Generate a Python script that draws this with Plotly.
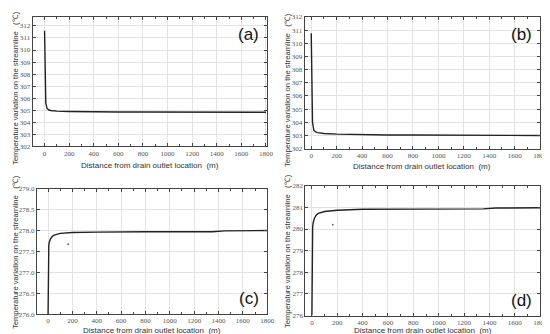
import plotly.graph_objects as go

# ---- data ----
dist_a = [0, 2, 5, 10, 20, 35, 50, 100, 200, 400, 600, 800, 1000, 1200, 1400, 1600, 1800]
temp_a = [311.6, 308.5, 306.6, 305.6, 305.15, 305.02, 304.98, 304.93, 304.9, 304.86, 304.86, 304.85, 304.84, 304.84, 304.83, 304.83, 304.83]

dist_b = [0, 2, 5, 10, 20, 35, 50, 100, 200, 400, 600, 800, 1000, 1200, 1400, 1600, 1800]
temp_b = [310.75, 307.5, 305.3, 304.0, 303.4, 303.27, 303.22, 303.15, 303.1, 303.05, 303.04, 303.03, 303.02, 303.02, 303.01, 303.0, 303.0]

dist_c = [0, 1, 3, 6, 10, 20, 35, 50, 100, 200, 400, 600, 800, 1000, 1200, 1350, 1450, 1600, 1800]
temp_c = [276.0, 277.3, 277.55, 277.65, 277.72, 277.8, 277.86, 277.89, 277.93, 277.95, 277.96, 277.97, 277.97, 277.97, 277.97, 277.97, 277.99, 278.0, 278.0]

dist_d = [0, 1, 3, 6, 10, 20, 35, 50, 100, 200, 400, 600, 800, 1000, 1200, 1350, 1450, 1600, 1800]
temp_d = [276.0, 279.4, 279.85, 280.1, 280.3, 280.5, 280.65, 280.72, 280.81, 280.87, 280.91, 280.92, 280.93, 280.93, 280.93, 280.93, 280.97, 280.98, 280.98]

dot_c = (165, 277.67)
dot_d = (165, 280.2)

panel_labels = ["(a)", "(b)", "(c)", "(d)"]
x_title = "Distance from drain outlet location  (m)"
y_title = "Temperature variation on the streamline   (\u2103)"

x_ticks = [0, 200, 400, 600, 800, 1000, 1200, 1400, 1600, 1800]
y_ticks_ab = list(range(302, 313))
y_ticks_c = [276.0, 276.5, 277.0, 277.5, 278.0, 278.5, 279.0]
y_ticks_d = list(range(276, 283))

# ---- layout ----
W, H = 550, 334
def px(x0, x1):
    return [x0 / W, x1 / W]
def py(top, bottom):
    return [1 - bottom / H, 1 - top / H]

panels = [
    dict(dx=px(25, 263), dy=py(5, 137.7), xr=[-97, 1810], yr=[302, 312.75], yt=y_ticks_ab, fmt="d",
         x=dist_a, y=temp_a, xt_y=157, yt_x=7, yt_y=78),
    dict(dx=px(301, 540), dy=py(5, 140), xr=[-52, 1800], yr=[302, 312], yt=y_ticks_ab, fmt="d",
         x=dist_b, y=temp_b, xt_y=158.5, yt_x=283, yt_y=80),
    dict(dx=px(29.3, 263), dy=py(181, 309.5), xr=[-92, 1800], yr=[276, 279], yt=y_ticks_c, fmt=".1f",
         x=dist_c, y=temp_c, xt_y=326.5, yt_x=7, yt_y=246),
    dict(dx=px(301.7, 540), dy=py(178, 311), xr=[-52, 1800], yr=[276, 282], yt=y_ticks_d, fmt="d",
         x=dist_d, y=temp_d, xt_y=326.5, yt_x=283, yt_y=245),
]

fig = go.Figure()
tickfont = dict(family="Liberation Serif, DejaVu Serif, serif", size=7, color="#555")
titlefont = dict(family="Liberation Sans Narrow, Liberation Sans, sans-serif", size=7.6, color="#333")
annotations = []
for i, p in enumerate(panels):
    n = "" if i == 0 else str(i + 1)
    xa, ya = "x" + n, "y" + n
    fig.add_trace(go.Scatter(x=p["x"], y=p["y"], mode="lines", xaxis=xa, yaxis=ya,
                             line=dict(color="#222", width=1.4), showlegend=False))
    common = dict(showline=True, linecolor="#444", linewidth=1, mirror="ticks",
                  ticks="inside", ticklen=3, tickcolor="#444", showgrid=True,
                  gridcolor="#e3e3e3", gridwidth=1, zeroline=False, tickfont=tickfont)
    fig.layout["xaxis" + n] = dict(domain=p["dx"], range=p["xr"], anchor=ya, tickvals=x_ticks,
                                   minor=dict(ticks="inside", ticklen=2, dtick=100, tick0=0, tickcolor="#444"),
                                   **common)
    fig.layout["yaxis" + n] = dict(domain=p["dy"], range=p["yr"], anchor=xa, tickvals=p["yt"],
                                   tickformat=p["fmt"], **common)
    # axis titles
    xc = (p["dx"][0] + p["dx"][1]) / 2
    annotations.append(dict(text=x_title, xref="paper", yref="paper", x=xc, y=1 - p["xt_y"] / H,
                            xanchor="center", yanchor="middle", showarrow=False, borderpad=0,
                            font=dict(titlefont, size=8)))
    annotations.append(dict(text=y_title, xref="paper", yref="paper", x=p["yt_x"] / W, y=1 - p["yt_y"] / H,
                            textangle=-90, xanchor="center", yanchor="middle", showarrow=False,
                            borderpad=0, font=titlefont))
    # panel labels
    if i < 2:
        annotations.append(dict(text=panel_labels[i], xref="paper", yref="paper",
                                x=p["dx"][1] - 0.012, y=p["dy"][1] - 0.02, xanchor="right", yanchor="top",
                                showarrow=False, font=dict(family="Liberation Sans", size=17, color="#111")))
    else:
        annotations.append(dict(text=panel_labels[i], xref="paper", yref="paper",
                                x=p["dx"][1] - 0.012, y=p["dy"][0] + 0.012, xanchor="right", yanchor="bottom",
                                showarrow=False, font=dict(family="Liberation Sans", size=17, color="#111")))

fig.add_trace(go.Scatter(x=[dot_c[0]], y=[dot_c[1]], mode="markers", xaxis="x3", yaxis="y3",
                         marker=dict(size=2, color="#777"), showlegend=False))
fig.add_trace(go.Scatter(x=[dot_d[0]], y=[dot_d[1]], mode="markers", xaxis="x4", yaxis="y4",
                         marker=dict(size=2, color="#777"), showlegend=False))

fig.update_layout(width=W, height=H, margin=dict(l=0, r=0, t=0, b=0),
                  paper_bgcolor="white", plot_bgcolor="white", annotations=annotations)
fig.write_html("out.html")
